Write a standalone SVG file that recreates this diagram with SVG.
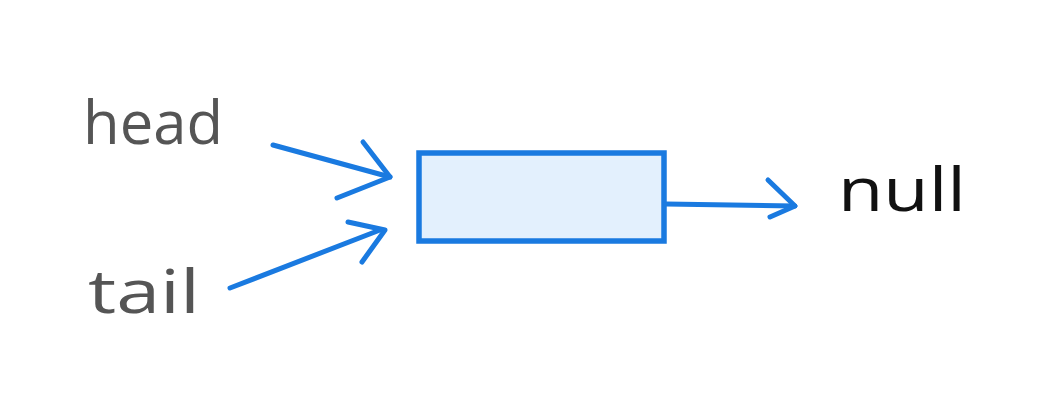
<svg xmlns="http://www.w3.org/2000/svg" width="1050" height="400" viewBox="0 0 1050 400">
  <style>
    .label { font-family: "Open Sans", "DejaVu Sans", sans-serif; font-size: 60px; }
    .muted { fill: #555555; }
    .dark { fill: #111111; }
    .edge { fill: none; stroke: #1a7ae0; stroke-width: 5; stroke-linecap: round; stroke-linejoin: round; }
    .node { fill: #e3f0fd; stroke: #1a7ae0; stroke-width: 5.5; }
  </style>
  <rect width="1050" height="400" fill="#ffffff"/>

  <g id="head">
    <text class="label muted" x="83" y="144" textLength="140" lengthAdjust="spacingAndGlyphs">head</text>
  </g>
  <g id="tail">
    <text class="label muted" x="88" y="313" textLength="112" lengthAdjust="spacingAndGlyphs">tail</text>
  </g>
  <g id="node">
    <rect class="node" x="419" y="153" width="245" height="88"/>
  </g>
  <g id="null">
    <text class="label dark" x="838" y="211" textLength="128" lengthAdjust="spacingAndGlyphs">null</text>
  </g>

  <g id="connectors">
    <!-- head -> node -->
    <path class="edge" d="M273 145 L390 177"/>
    <path class="edge" d="M363 142 L390 177 L337 198"/>
    <!-- tail -> node -->
    <path class="edge" d="M230 288 L380 230"/>
    <path class="edge" d="M348 222 L385 230 L362 262"/>
    <!-- node -> null -->
    <path class="edge" d="M666 204 L795 206"/>
    <path class="edge" d="M768 180 L795 206 L770 217"/>
  </g>
</svg>
